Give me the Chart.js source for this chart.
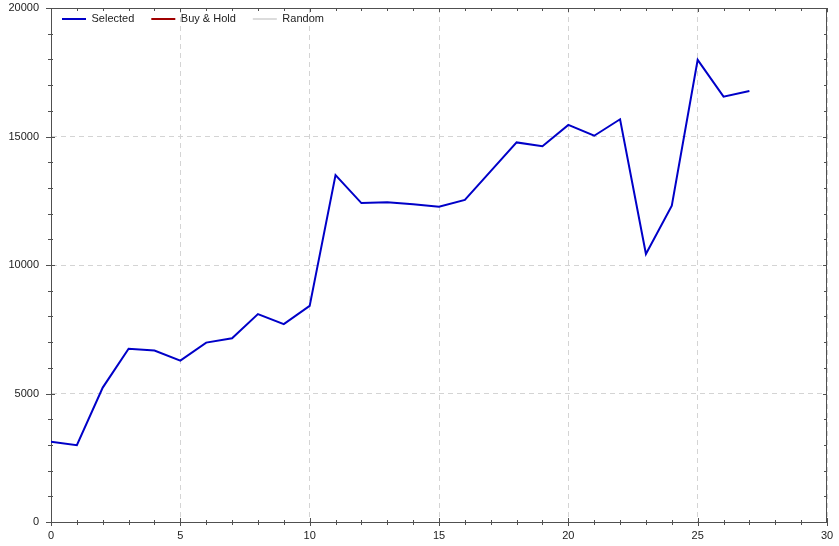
<!DOCTYPE html>
<html><head><meta charset="utf-8">
<script src="https://cdn.jsdelivr.net/npm/chart.js@4/dist/chart.umd.min.js"></script>
<style>html,body{margin:0;padding:0;background:#fff}#wrap{width:839px;height:546px}</style>
</head><body><div id="wrap"><canvas id="c" width="839" height="546"></canvas></div>
<script>
const periods = [0,1,2,3,4,5,6,7,8,9,10,11,12,13,14,15,16,17,18,19,20,21,22,23,24,25,26,27];
const selectedValues = [3120,2990,5230,6740,6670,6280,6980,7150,8090,7700,8410,13500,12410,12440,12360,12270,12530,13650,14770,14620,15450,15030,15670,10430,12310,17980,16550,16770];
const buyHoldValues = [];
const randomValues = [];
const seriesNames = ['Selected','Buy & Hold','Random'];
const seriesColors = ['#0000c8','#a00000','#dcdcdc'];
const xRange = [0,30];
const yRange = [0,20000];

const axisColor = '#505050';
const LEG_PAD = 17;
const frameTicks = {
  id:'frameTicks',
  beforeLayout(chart){
    const lg = chart.legend;
    if(lg && !lg._zeroPatched){
      const f = lg.fit.bind(lg);
      lg.fit = function(){ f(); this.height = 0; };
      lg._zeroPatched = true;
    }
  },
  afterLayout(chart){
    const lg = chart.legend, a = chart.chartArea;
    if(lg){
      const w = lg.right - lg.left;
      lg.left = a.left + 11 - LEG_PAD; lg.right = lg.left + w;
      lg.top = a.top + 12 - LEG_PAD - 6.6; lg.bottom = lg.top + 30;
    }
  },
  afterDraw(chart){
    const {ctx, chartArea:a, scales:{x,y}} = chart;
    ctx.save();
    ctx.strokeStyle = axisColor; ctx.lineWidth = 1;
    ctx.beginPath();
    ctx.moveTo(a.left, a.top+0.5); ctx.lineTo(a.right, a.top+0.5);
    ctx.moveTo(a.right-0.5, a.top); ctx.lineTo(a.right-0.5, a.bottom);
    for(let v=xRange[0]; v<=xRange[1]; v++){
      const px = Math.round(x.getPixelForValue(v))+0.5;
      const maj = v%5===0;
      ctx.moveTo(px, a.bottom-(maj?4:2)); ctx.lineTo(px, a.bottom+(maj?4:3));
      ctx.moveTo(px, a.top); ctx.lineTo(px, a.top+(maj?4:3));
    }
    for(let v=yRange[0]; v<=yRange[1]; v+=1000){
      const py = Math.round(y.getPixelForValue(v))+0.5;
      const maj = v%5000===0;
      ctx.moveTo(a.left-(maj?5:3), py); ctx.lineTo(a.left+(maj?4:2), py);
      ctx.moveTo(a.right-(maj?4:3), py); ctx.lineTo(a.right, py);
    }
    ctx.stroke();
    ctx.restore();
  }
};

const mk = (vals)=>vals.map((v,i)=>({x:periods[i], y:v}));
const datasets = [selectedValues, buyHoldValues, randomValues].map((vals,i)=>({
  label: seriesNames[i], data: mk(vals), borderColor: seriesColors[i], backgroundColor: seriesColors[i],
  borderWidth: 2, pointRadius: 0, tension: 0, fill: false
}));

Chart.defaults.font.family = "'Liberation Sans', Arial, sans-serif";
Chart.defaults.font.size = 11;
Chart.defaults.color = '#222';

new Chart(document.getElementById('c'), {
  type: 'line',
  data: { datasets },
  options: {
    responsive: false, animation: false,
    layout: { padding: { left: 0, right: 12, top: 8, bottom: 0 } },
    plugins: {
      legend: {
        position: 'top', align: 'start',
        labels: {
          boxWidth: 24, boxHeight: 2, padding: LEG_PAD, color: '#222',
          generateLabels(chart){
            return chart.data.datasets.map((d,i)=>({
              text: d.label, fillStyle: d.borderColor, strokeStyle: d.borderColor,
              lineWidth: 0, hidden: false, datasetIndex: i, fontColor: '#222'
            }));
          }
        }
      },
      tooltip: { enabled: false }
    },
    scales: {
      x: {
        type: 'linear', min: xRange[0], max: xRange[1],
        afterFit(s){ s.height = 24; s.paddingLeft = 0; s.paddingRight = 0; },
        ticks: { stepSize: 5, padding: 7, maxRotation: 0, callback: v => String(v) },
        grid: { color: '#d4d4d4', drawTicks: false },
        border: { display: true, color: axisColor, width: 1, dash: [5,4] }
      },
      y: {
        type: 'linear', min: yRange[0], max: yRange[1],
        afterFit(s){ s.width = 51; s.paddingTop = 0; s.paddingBottom = 0; },
        ticks: { stepSize: 5000, padding: 12, callback: v => String(v) },
        grid: { color: '#d4d4d4', drawTicks: false },
        border: { display: true, color: axisColor, width: 1, dash: [5,4] }
      }
    }
  },
  plugins: [frameTicks]
});
</script></body></html>
